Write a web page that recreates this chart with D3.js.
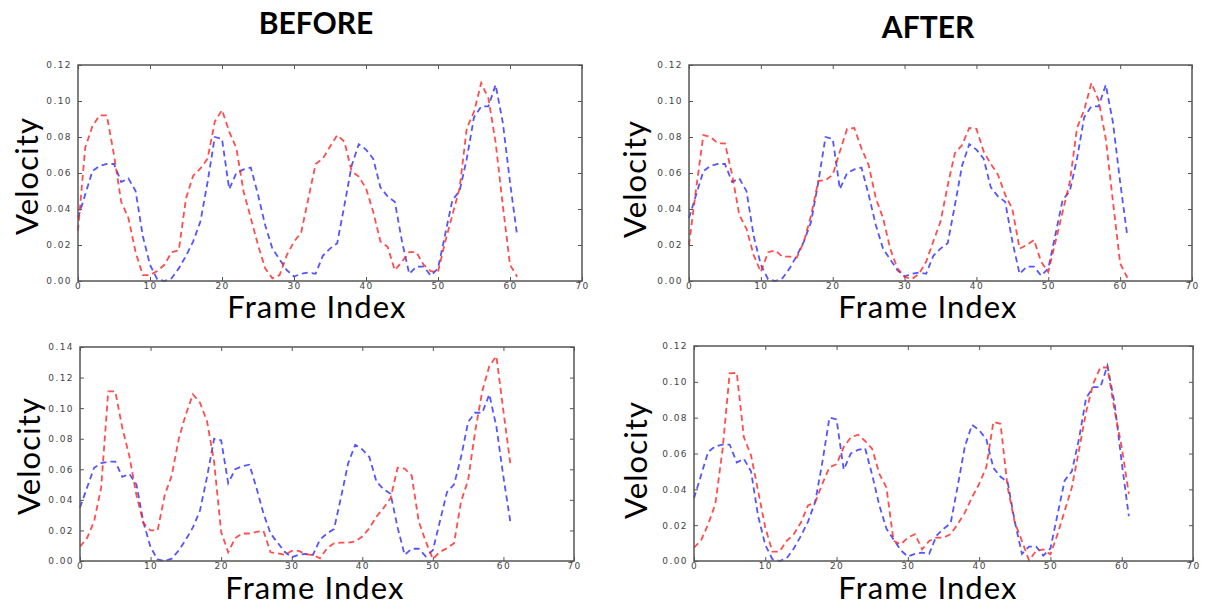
<!DOCTYPE html>
<html>
<head>
<meta charset="utf-8">
<script src="https://cdn.jsdelivr.net/npm/d3@7"></script>
<style>
  body { margin: 0; background: #fff; }
  svg { display: block; }
  .tick text { font-family: "DejaVu Sans", sans-serif; font-size: 9px; fill: #444; letter-spacing: 1.4px; }
  .tick line { stroke: #555; stroke-width: 1; }
  .lbl { font-family: Lato, "Open Sans", sans-serif; fill: #000; }
  .axlbl { letter-spacing: 1.1px; }
</style>
</head>
<body>
<svg id="chart" width="1207" height="611"></svg>
<script>
'use strict';

// ── Data ──────────────────────────────────────────────────────
const FRAMES = [0,1,2,3,4,5,6,7,8,9,10,11,12,13,14,15,16,17,18,19,20,21,22,23,24,25,26,27,28,29,
  30,31,32,33,34,35,36,37,38,39,40,41,42,43,44,45,46,47,48,49,50,51,52,53,54,55,56,57,58,59,60,61];

// blue: reference velocity (same in every panel)
const TRUTH = [0.035,0.048,0.061,0.064,0.065,0.065,0.055,0.057,0.050,0.025,
  0.009,0.001,0.000,0.0015,0.007,0.014,0.022,0.033,0.055,0.080,
  0.079,0.051,0.060,0.062,0.063,0.048,0.031,0.018,0.012,0.006,
  0.0025,0.004,0.0047,0.004,0.014,0.018,0.021,0.042,0.064,0.076,
  0.073,0.068,0.052,0.047,0.044,0.022,0.004,0.008,0.008,0.003,
  0.007,0.026,0.045,0.050,0.068,0.091,0.097,0.097,0.109,0.088,0.055,0.025];

// red curves
const BEFORE_TOP = [0.028,0.074,0.086,0.092,0.092,0.070,0.044,0.035,0.016,0.0033,
  0.0033,0.0055,0.009,0.016,0.017,0.046,0.0585,0.0625,0.068,0.0885,
  0.095,0.083,0.0737,0.0496,0.035,0.020,0.007,0.0015,0.0033,0.0144,
  0.0218,0.027,0.046,0.065,0.068,0.0746,0.081,0.0774,0.061,0.058,
  0.0515,0.0385,0.022,0.019,0.006,0.0107,0.016,0.016,0.009,0.0055,
  0.005,0.0218,0.0367,0.0515,0.085,0.094,0.110,0.1015,0.077,0.042,0.009,0.0024];

const AFTER_TOP = [0.020,0.0515,0.081,0.080,0.0765,0.0765,0.059,0.0367,0.029,0.0144,
  0.005,0.016,0.017,0.0135,0.0135,0.013,0.022,0.0367,0.0556,0.056,
  0.059,0.072,0.0845,0.085,0.0737,0.0644,0.046,0.035,0.018,0.007,
  0.0024,0.001,0.004,0.0107,0.022,0.033,0.053,0.071,0.0755,0.085,
  0.0845,0.072,0.065,0.059,0.048,0.040,0.018,0.020,0.0228,0.0107,
  0.005,0.0218,0.0385,0.055,0.085,0.095,0.110,0.1005,0.079,0.044,0.0098,0.0018];

const BEFORE_BOTTOM = [0.0094,0.015,0.026,0.048,0.111,0.111,0.087,0.0685,0.043,0.0247,
  0.020,0.020,0.043,0.056,0.080,0.096,0.109,0.1035,0.0914,0.065,
  0.019,0.0057,0.015,0.018,0.018,0.019,0.0197,0.0057,0.005,0.004,
  0.0066,0.0066,0.0044,0.004,0.0017,0.0083,0.0116,0.012,0.012,0.0127,
  0.016,0.0214,0.029,0.0346,0.041,0.061,0.0604,0.056,0.0258,0.0127,
  0.0013,0.006,0.0083,0.0116,0.039,0.053,0.085,0.111,0.1275,0.134,0.098,0.063];

const AFTER_BOTTOM = [0.0075,0.0116,0.0206,0.032,0.062,0.1047,0.105,0.069,0.059,0.039,
  0.0187,0.0052,0.0052,0.0112,0.015,0.0215,0.031,0.0327,0.043,0.0523,
  0.054,0.0636,0.069,0.0705,0.067,0.0626,0.0486,0.041,0.0112,0.0093,
  0.013,0.015,0.0065,0.0112,0.013,0.013,0.015,0.0206,0.027,0.0355,
  0.043,0.0523,0.0776,0.0766,0.041,0.0215,0.0112,0.0004,0.0056,0.0065,
  0.0037,0.015,0.028,0.041,0.0617,0.083,0.099,0.108,0.108,0.084,0.0636,0.0374];

const X_TICKS    = [0,10,20,30,40,50,60,70];
const Y_TICKS_12 = [0,0.02,0.04,0.06,0.08,0.10,0.12];
const Y_TICKS_14 = [0,0.02,0.04,0.06,0.08,0.10,0.12,0.14];

const TITLES  = ['BEFORE', 'AFTER'];
const X_LABEL = 'Frame Index';
const Y_LABEL = 'Velocity';

// ── Layout ────────────────────────────────────────────────────
const PANELS = [
  { x0: 78,  x1: 582,  y0: 65,  y1: 281, ymax: 0.12, yt: Y_TICKS_12, red: BEFORE_TOP,
    vx: 27,  vy: 176, fx: 317, fy: 318 },
  { x0: 689, x1: 1192, y0: 65,  y1: 281, ymax: 0.12, yt: Y_TICKS_12, red: AFTER_TOP,
    vx: 635, vy: 179, fx: 928, fy: 318 },
  { x0: 80,  x1: 574,  y0: 347, y1: 561, ymax: 0.14, yt: Y_TICKS_14, red: BEFORE_BOTTOM,
    vx: 29,  vy: 456, fx: 315, fy: 599 },
  { x0: 694, x1: 1193, y0: 346, y1: 561, ymax: 0.12, yt: Y_TICKS_12, red: AFTER_BOTTOM,
    vx: 636, vy: 460, fx: 928, fy: 599 },
];

const svg = d3.select('#chart');

function drawPanel(p) {
  const x = d3.scaleLinear().domain([0, 70]).range([p.x0, p.x1]);
  const y = d3.scaleLinear().domain([0, p.ymax]).range([p.y1, p.y0]);
  const g = svg.append('g');

  // ticks (inward, on all four sides)
  g.append('g').attr('transform', `translate(0,${p.y1})`)
    .call(d3.axisBottom(x).tickValues(X_TICKS).tickSize(-4).tickPadding(2).tickFormat(d3.format('d')));
  g.append('g').attr('transform', `translate(0,${p.y0})`)
    .call(d3.axisTop(x).tickValues(X_TICKS).tickSize(-4).tickFormat(''));
  g.append('g').attr('transform', `translate(${p.x0},0)`)
    .call(d3.axisLeft(y).tickValues(p.yt).tickSize(-4).tickPadding(6).tickFormat(d3.format('.2f')));
  g.append('g').attr('transform', `translate(${p.x1},0)`)
    .call(d3.axisRight(y).tickValues(p.yt).tickSize(-4).tickFormat(''));
  g.selectAll('.domain').remove();

  const line = d3.line().x((d, i) => x(FRAMES[i])).y(d => y(d));

  g.append('path').datum(TRUTH)
    .attr('d', line).attr('fill', 'none')
    .attr('stroke', '#2a2aff').attr('stroke-opacity', 0.8)
    .attr('stroke-width', 1.8).attr('stroke-dasharray', '6,4');

  g.append('path').datum(p.red)
    .attr('d', line).attr('fill', 'none')
    .attr('stroke', '#ff2020').attr('stroke-opacity', 0.8)
    .attr('stroke-width', 1.8).attr('stroke-dasharray', '6,4');

  // frame
  g.append('rect')
    .attr('x', p.x0).attr('y', p.y0)
    .attr('width', p.x1 - p.x0).attr('height', p.y1 - p.y0)
    .attr('fill', 'none').attr('stroke', '#555').attr('stroke-width', 1.5);

  g.append('text').attr('class', 'lbl axlbl')
    .attr('x', p.fx).attr('y', p.fy)
    .attr('text-anchor', 'middle').attr('font-size', 31)
    .text(X_LABEL);

  g.append('text').attr('class', 'lbl axlbl')
    .attr('transform', `translate(${p.vx},${p.vy}) rotate(-90)`)
    .attr('text-anchor', 'middle').attr('dy', '0.35em').attr('font-size', 31)
    .text(Y_LABEL);
}

PANELS.forEach(drawPanel);

svg.append('text').attr('class', 'lbl')
  .attr('x', 316).attr('y', 34).attr('text-anchor', 'middle')
  .attr('font-size', 30).attr('font-weight', 'bold')
  .text(TITLES[0]);
svg.append('text').attr('class', 'lbl')
  .attr('x', 928).attr('y', 38).attr('text-anchor', 'middle')
  .attr('font-size', 30).attr('font-weight', 'bold')
  .text(TITLES[1]);
</script>
</body>
</html>
